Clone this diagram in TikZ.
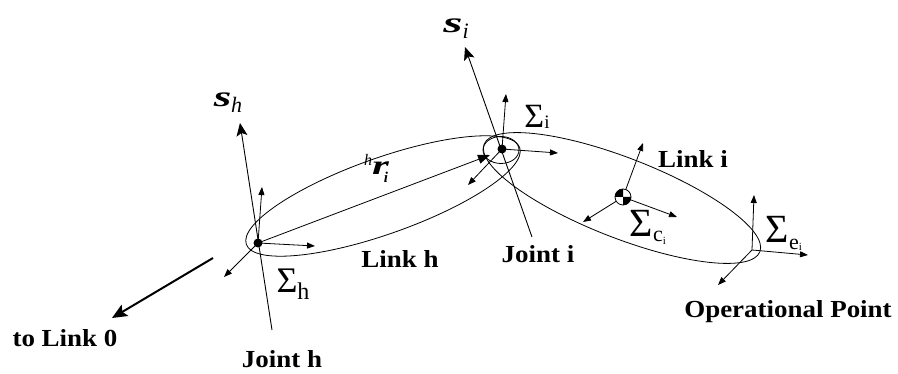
\documentclass[tikz,border=0pt]{standalone}
\usepackage{fontspec}
\usepackage{graphicx}
\setmainfont{Liberation Serif}
\newfontfamily\lblfont[FakeStretch=1.1]{Liberation Serif}
\usetikzlibrary{arrows.meta}
\begin{document}
\begin{tikzpicture}[x=1pt,y=-1pt,
  ln/.style={line width=0.8pt},
  fr/.style={line width=0.8pt,-{Triangle[length=8pt,width=6pt]}},
  ax/.style={line width=0.9pt,-{Stealth[length=13pt,width=11pt,inset=3pt]}},
  thick0/.style={line width=2pt,-{Stealth[length=15pt,width=13pt,inset=3pt]}},
  lbl/.style={font=\lblfont\bfseries\fontsize{24.5}{28}\selectfont,inner sep=0pt,anchor=base},
  sig/.style={inner sep=0pt,anchor=base},
  dot/.style={circle,fill,inner sep=0pt,minimum size=9pt}
]
\useasboundingbox (0,0) rectangle (898,374);

% link ellipses
\draw[ln,rotate around={19.5:(383,196)}] (383,196) ellipse [x radius=145pt, y radius=38pt];
\draw[ln,rotate around={-21.3:(622,198)}] (622,198) ellipse [x radius=148pt, y radius=40pt];
\draw[ln] (501,150) ellipse [x radius=18pt, y radius=13.5pt];

% joint h
\node[dot] (jh) at (258,243) {};
\coordinate (jhb) at (272,330);
\coordinate (sht) at (240,123);
\draw[ax] (jhb) -- (sht);
\coordinate (hx) at (315,246);
\coordinate (hy) at (262,187);
\coordinate (hz) at (224,277);
\draw[fr] (jh.center) -- (hx);
\draw[fr] (jh.center) -- (hy);
\draw[fr] (jh.center) -- (hz);

% to link 0
\coordinate (l0s) at (213,258);
\coordinate (l0e) at (112,318);
\draw[thick0] (l0s) -- (l0e);

% joint i
\node[dot] (ji) at (502,149) {};
\coordinate (jib) at (532,237);
\coordinate (sit) at (465,47);
\draw[ax] (jib) -- (sit);
\coordinate (ix) at (558,153);
\coordinate (iy) at (506,94);
\coordinate (iz) at (468,185);
\draw[fr] (ji.center) -- (ix);
\draw[fr] (ji.center) -- (iy);
\draw[fr] (ji.center) -- (iz);

% vector h r i
\coordinate (hre) at (490,155);
\draw[line width=0.8pt,-{Triangle[length=12pt,width=9pt]}] (jh.center) -- (hre);

% centre of mass
\node[circle,draw,line width=0.8pt,minimum size=16pt,inner sep=0pt,fill=white] (com) at (623,197) {};
\fill (com.center) -- +(180:8pt) arc[start angle=180,end angle=90,radius=8pt] -- cycle;
\fill (com.center) -- +(0:8pt) arc[start angle=0,end angle=-90,radius=8pt] -- cycle;
\coordinate (cx) at (677,217);
\coordinate (cy) at (643,143);
\coordinate (cz) at (583,222);
\draw[fr] (com) -- (cx);
\draw[fr] (com) -- (cy);
\draw[fr] (com) -- (cz);

% operational point
\coordinate (op) at (752,250);
\coordinate (ex) at (808,255);
\coordinate (ey) at (754,195);
\coordinate (ez) at (718,285);
\draw[fr] (op) -- (ex);
\draw[fr] (op) -- (ey);
\draw[fr] (op) -- (ez);

% labels
\node[sig] (tsh) at (228,107) {\fontsize{29}{29}\selectfont\bfseries\itshape \scalebox{1.55}[1]{s}\raisebox{-6pt}{\fontsize{22}{22}\selectfont\mdseries h}};
\node[sig] (tsi) at (456,33) {\fontsize{29}{29}\selectfont\bfseries\itshape \scalebox{1.7}[1]{s}\raisebox{-6pt}{\fontsize{22}{22}\selectfont\mdseries i}};
\node[sig] (thr) at (376,175) {\itshape\raisebox{9pt}{\fontsize{16}{16}\selectfont h}\fontsize{27}{27}\selectfont\bfseries \scalebox{1.6}[1]{r}\kern-5pt\raisebox{-8pt}{\fontsize{15}{15}\selectfont i}};

\node[sig] (tSh) at (293,293) {\fontsize{36}{36}\selectfont Σ\raisebox{-7pt}{\fontsize{24}{24}\selectfont h}};
\node[sig] (tSi) at (537,128) {\fontsize{34}{34}\selectfont Σ\raisebox{-1pt}{\fontsize{19}{19}\selectfont i}};
\node[sig] (tSc) at (648,237) {\fontsize{40}{40}\selectfont Σ\raisebox{-5pt}{\fontsize{22}{22}\selectfont c\raisebox{-3pt}{\fontsize{11}{11}\selectfont i}}};
\node[sig] (tSe) at (784,243) {\fontsize{40}{40}\selectfont Σ\raisebox{-7pt}{\fontsize{22}{22}\selectfont e\raisebox{-1pt}{\fontsize{11}{11}\selectfont i}}};

\node[lbl] (tlh) at (400,268) {Link h};
\node[lbl] (tli) at (693,168) {Link i};
\node[lbl] (tji) at (538,263) {Joint i};
\node[lbl] (tjh) at (282,367) {Joint h};
\node[lbl] (tl0) at (65,347) {to Link 0};
\node[lbl] (top) at (788,318) {Operational Point};
\end{tikzpicture}
\end{document}
